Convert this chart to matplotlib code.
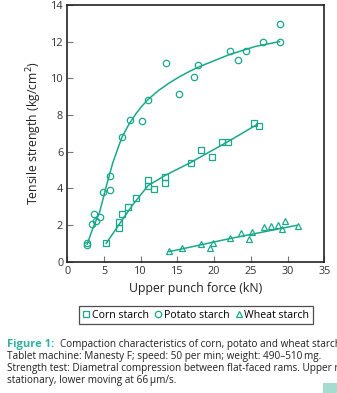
import matplotlib
matplotlib.use("Agg")
import matplotlib.pyplot as plt
from matplotlib.patches import Rectangle

# potato starch (kN, kg/cm2)
potato_x = [2.7, 2.7, 3.4, 3.6, 3.85, 4.5, 4.85, 5.75, 5.85, 7.4, 8.5, 10.15,
            11.0, 13.4, 15.2, 17.3, 17.8, 22.1, 23.3, 24.3, 26.7, 29.0, 29.0]
potato_y = [1.04, 0.9, 2.04, 2.6, 2.2, 2.44, 3.81, 3.92, 4.66, 6.82, 7.73, 7.67,
            8.83, 10.84, 9.17, 10.05, 10.75, 11.5, 11.0, 11.5, 12.0, 12.0, 12.94]
potato_fit_x = [2.7, 3.5, 4.4, 5.3, 6.2, 7.4, 8.4, 9.4, 10.2, 11.0, 12.4, 13.9,
                15.2, 16.6, 18.0, 19.5, 22.1, 25.7, 28.9]
potato_fit_y = [0.95, 1.85, 2.7, 4.1, 5.4, 6.75, 7.5, 8.1, 8.5, 8.85, 9.33, 9.75,
                10.07, 10.37, 10.64, 10.88, 11.3, 11.75, 12.0]

# corn starch
corn_x = [5.3, 7.0, 7.0, 7.5, 8.25, 9.4, 11.0, 11.0, 11.8, 13.25, 13.25,
          16.8, 18.2, 19.7, 21.1, 21.85, 25.4, 26.1]
corn_y = [1.0, 1.82, 2.16, 2.58, 3.0, 3.49, 4.45, 4.15, 3.94, 4.6, 4.27,
          5.39, 6.11, 5.72, 6.51, 6.51, 7.56, 7.42]
corn_fit_x = [5.3, 7.0, 9.0, 11.0, 13.3, 16.7, 22.1, 25.7]
corn_fit_y = [1.0, 2.0, 3.15, 4.15, 4.7, 5.39, 6.6, 7.45]

# wheat starch
wheat_x = [13.8, 15.6, 18.2, 19.5, 19.9, 22.1, 23.7, 24.7, 25.2, 26.75,
           27.75, 28.65, 29.3, 29.7, 31.4]
wheat_y = [0.57, 0.72, 0.99, 0.75, 1.04, 1.31, 1.57, 1.26, 1.64, 1.89,
           1.95, 2.0, 1.8, 2.22, 1.95]
wheat_fit_x = [13.9, 22.0, 31.2]
wheat_fit_y = [0.55, 1.25, 1.98]

teal = '#1aa88b'
plt.rcParams['font.family'] = ['Open Sans', 'DejaVu Sans']

W, H = 337, 393
fig = plt.figure(figsize=(W / 100, H / 100), dpi=100)
ax = fig.add_axes([67.3 / W, 1 - 261.7 / H, 257 / W, 256.7 / H])

mk = dict(linestyle='none', markerfacecolor='none', markeredgecolor=teal,
          markersize=4.6, markeredgewidth=0.9)
ax.plot(corn_fit_x, corn_fit_y, color=teal, lw=1.1)
ax.plot(potato_fit_x, potato_fit_y, color=teal, lw=1.1)
ax.plot(wheat_fit_x, wheat_fit_y, color=teal, lw=1.1)
h1, = ax.plot(corn_x, corn_y, marker='s', label='Corn starch', **mk)
h2, = ax.plot(potato_x, potato_y, marker='o', label='Potato starch', **mk)
h3, = ax.plot(wheat_x, wheat_y, marker='^', label='Wheat starch', **mk)

ax.set_xlim(0, 35)
ax.set_ylim(0, 14)
ax.set_xticks(range(0, 36, 5))
ax.set_yticks(range(0, 15, 2))
ax.tick_params(direction='in', length=4, width=0.8, color='#777777',
               labelsize=7.8, labelcolor='#333333', pad=3)
for s in ax.spines.values():
    s.set_linewidth(1.2)
    s.set_color('#222222')
ax.set_xlabel('Upper punch force (kN)', fontsize=8.8, color='#222222', labelpad=4)
ax.set_ylabel('Tensile strength (kg/cm$^2$)', fontsize=8.8, color='#222222', labelpad=5)

leg = fig.legend(handles=[h1, h2, h3], loc='center', ncol=3,
                 bbox_to_anchor=(196 / W, 1 - 315 / H), fontsize=7.6,
                 frameon=True, fancybox=False, handlelength=0.7,
                 handletextpad=0.2, columnspacing=0.5, borderpad=0.3,
                 borderaxespad=0)
leg.get_frame().set_edgecolor('#222222')
leg.get_frame().set_linewidth(0.9)

cap = dict(fontsize=7.2, color='#222222', va='center', ha='left')
fig.text(7 / W, 1 - 345 / H, 'Figure 1:', fontsize=8.0, color='#2fb2a0',
         fontweight='bold', va='center', ha='left')
fig.text(60 / W, 1 - 345 / H,
         'Compaction characteristics of corn, potato and wheat starches.', **cap)
fig.text(7 / W, 1 - 357 / H,
         'Tablet machine: Manesty F; speed: 50 per min; weight: 490\u2013510\u2009mg.', **cap)
fig.text(7 / W, 1 - 369 / H,
         'Strength test: Diametral compression between flat-faced rams. Upper ram', **cap)
fig.text(7 / W, 1 - 381 / H, 'stationary, lower moving at 66\u2009\u00b5m/s.', **cap)

fig.patches.append(Rectangle((323 / W, 0), 14 / W, 10 / H, transform=fig.transFigure,
                             facecolor='#a6dccf', edgecolor='none'))

fig.savefig('out.png', dpi=100)
